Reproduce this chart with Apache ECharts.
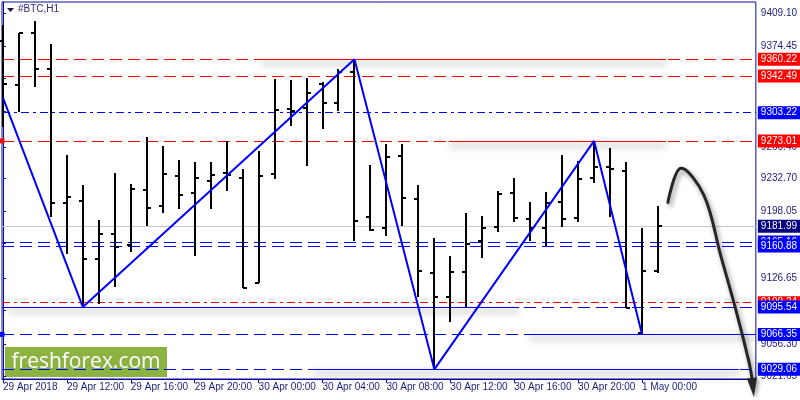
<!DOCTYPE html>
<html>
<head>
<meta charset="utf-8">
<script src="https://cdn.jsdelivr.net/npm/echarts@6/dist/echarts.min.js"></script>
<style>
html,body{margin:0;padding:0;background:#fff;}
#main{width:800px;height:400px;}
</style>
</head>
<body>
<div id="main"></div>
<script>
// ---- data (hourly bars from 29 Apr 2018 08:00, index = hour offset) ----
const opens  = [9380.0,9333.1,9388.0,9350.2,9206.7,9209.1,9146.5,9173.6,9161.8,9220.6,9203.2,9235.9,9217.4,9230.2,9238.8,9233.2,9121.6,9238.0,9307.5,9308.5,9333.5,9313.9,9346.6,9192.1,9180.3,9256.6,9211.3,9132.2,9106.0,9133.3,9166.4,9181.4,9217.1,9189.3,9180.3,9208.1,9191.0,9233.1,9245.5,9241.2,9068.0,9134.1];
const highs  = [9396.9,9388.0,9401.1,9376.6,9258.0,9225.9,9188.5,9238.4,9227.0,9276.9,9267.6,9252.6,9250.5,9250.5,9272.9,9242.7,9262.2,9338.9,9337.8,9340.2,9335.6,9349.5,9360.22,9247.3,9269.7,9269.7,9225.9,9169.0,9150.1,9195.7,9192.8,9219.2,9233.1,9207.5,9218.1,9258.0,9251.6,9273.01,9265.1,9250.2,9179.7,9203.5];
const lows   = [9288.2,9304.2,9330.9,9192.1,9152.2,9095.54,9098.8,9116.6,9154.7,9182.4,9196.3,9200.6,9150.1,9200.6,9219.9,9115.6,9121.6,9232.0,9289.3,9246.5,9286.1,9305.0,9166.1,9176.8,9171.8,9182.1,9106.0,9029.06,9079.3,9096.0,9147.6,9175.7,9186.8,9166.1,9160.8,9180.8,9186.1,9227.8,9191.4,9094.2,9066.35,9131.6];
const closes = [9333.8,9388.0,9350.2,9206.7,9213.4,9146.5,9173.6,9160.0,9221.7,9201.4,9238.0,9215.2,9233.2,9236.9,9236.6,9116.2,9235.9,9306.4,9305.0,9324.5,9313.9,9346.6,9187.5,9177.9,9255.9,9212.4,9134.4,9106.0,9133.3,9162.9,9180.3,9216.0,9191.0,9180.3,9206.4,9190.0,9232.3,9245.5,9243.4,9094.2,9134.1,9181.99];

const zigzagIndex = [0, 5, 22, 27, 37, 40];
const zigzagPrice = [9319.0, 9095.54, 9360.22, 9029.06, 9273.01, 9066.35];

const levelPrices = [9360.22, 9342.49, 9303.22, 9273.01, 9181.99, 9165.16, 9160.88, 9100.24, 9095.54, 9066.35, 9029.06];

const xTickIndex  = [0, 4, 8, 12, 16, 20, 24, 28, 32, 36, 40];
const xTickLabels = ['29 Apr 2018','29 Apr 12:00','29 Apr 16:00','29 Apr 20:00','30 Apr 00:00','30 Apr 04:00','30 Apr 08:00','30 Apr 12:00','30 Apr 16:00','30 Apr 20:00','1 May 00:00'];
const yTickValues = [9409.10, 9374.45, 9339.80, 9305.15, 9266.40, 9232.70, 9198.05, 9163.40, 9126.65, 9092.00, 9056.30, 9021.65];

// forecast arrow path (hour index, price), last entry = arrow tip
const forecastIndex = [41.62, 42.42, 43.87, 44.92, 45.96, 46.69, 46.88, 47.0];
const forecastPrice = [9207.4, 9243.8, 9215.2, 9151.1, 9087.0, 9037.2, 9019.7, 8999.6];

// ---- build ----
const ohlc = opens.map((o, i) => [i, o, highs[i], lows[i], closes[i]]);
const zigzag = zigzagIndex.map((x, i) => [x, zigzagPrice[i]]);

const NAVY = '#0b0b9c';
const TXT = '#1c1c7c';
const FONT = 'Liberation Sans';
const RED = '#ff0000', BLUE = '#0000ff', DARK = '#00007f';
const HOLLOW_SQ = 'path://M0,0H10V10H0Z M2.5,2.5V7.5H7.5V2.5Z';

function lbl(bg) {
  return {
    show: true, position: 'end', distance: 2,
    formatter: p => Number(p.value).toFixed(2),
    color: '#fff', backgroundColor: bg, fontFamily: FONT, fontSize: 10,
    lineHeight: 12, padding: [1, 3, 0, 3]
  };
}
const shadow = { shadowColor: 'rgba(0,0,0,0.75)', shadowBlur: 7, shadowOffsetY: 4 };
const DASH = [12, 6], DASHDOT = [8, 4, 3, 4];
const L = levelPrices;
function seg(a, b, price, color) {
  return [{ coord: [a, price], lineStyle: Object.assign({ color: color, width: 1, type: 'solid' }, shadow) }, { coord: [b, price] }];
}

const markData = [
  seg(16.2, 41.5, L[0], RED),
  seg(27.9, 41.5, L[3], RED),
  seg(0.3, 32.3, L[8], BLUE),
  seg(32.9, 47.125, L[9], BLUE),
  seg(19.5, 46.05, L[10], BLUE),
  { yAxis: L[0], lineStyle: { color: RED, type: DASH, width: 1 }, label: lbl(RED) },
  { yAxis: L[1], lineStyle: { color: RED, type: DASH, width: 1 }, label: lbl(RED) },
  { yAxis: L[2], lineStyle: { color: BLUE, type: DASHDOT, width: 1 }, label: lbl(BLUE) },
  { yAxis: L[3], lineStyle: { color: RED, type: DASH, width: 1 }, label: lbl(RED), symbol: [HOLLOW_SQ, HOLLOW_SQ], symbolSize: 5 },
  { yAxis: L[4], lineStyle: { color: '#c8c8c8', type: 'solid', width: 1 }, label: lbl(DARK) },
  { yAxis: L[5], lineStyle: { color: BLUE, type: DASH, width: 1 }, label: lbl(BLUE) },
  { yAxis: L[6], lineStyle: { color: BLUE, type: DASH, width: 1 }, label: lbl(BLUE) },
  { yAxis: L[7], lineStyle: { color: RED, type: DASHDOT, width: 1 }, label: lbl(RED) },
  { yAxis: L[8], lineStyle: { color: BLUE, type: DASH, width: 1 }, label: lbl(BLUE) },
  { yAxis: L[9], lineStyle: { color: BLUE, type: DASH, width: 1 }, label: lbl(BLUE), symbol: [HOLLOW_SQ, HOLLOW_SQ], symbolSize: 5 },
  { yAxis: L[10], lineStyle: { color: BLUE, type: DASH, width: 1 }, label: lbl(BLUE) }
];

const chart = echarts.init(document.getElementById('main'), null, { renderer: 'canvas' });
const baseGraphic = [
  { id: 'tri', type: 'polygon', shape: { points: [[7, 8], [14, 8], [10.5, 12]] }, style: { fill: '#14145a' }, z: 50 },
  { id: 'ttl', type: 'text', left: 18, top: 4, style: { text: '#BTC,H1', fill: '#2a2a7a', font: '10px "Liberation Sans"' }, z: 50 },
  {
    id: 'logo', type: 'group', left: 5, top: 347, z: 60, children: [
      { type: 'rect', shape: { x: 0, y: 0, width: 162, height: 30 }, style: { fill: '#8cb342' } },
      { type: 'text', x: 81, y: 15, style: { text: 'freshforex.com', fill: '#fff', font: '21px "Open Sans"', align: 'center', verticalAlign: 'middle' } }
    ]
  }
];
chart.setOption({
  animation: false,
  backgroundColor: '#fff',
  textStyle: { fontFamily: FONT },
  grid: { left: 2, right: 43, top: 2, bottom: 21, show: true, borderColor: NAVY, borderWidth: 1, backgroundColor: '#fff' },
  xAxis: {
    type: 'value', min: -0.0625, max: 47.125,
    splitLine: { show: false },
    axisLine: { show: true, onZero: false, lineStyle: { color: NAVY } },
    axisTick: { show: true, customValues: xTickIndex, length: 4, lineStyle: { color: NAVY } },
    axisLabel: {
      customValues: xTickIndex, align: 'left', margin: 3,
      color: TXT, fontFamily: FONT, fontSize: 10,
      formatter: v => xTickLabels[xTickIndex.indexOf(Math.round(v))] || ''
    }
  },
  yAxis: {
    type: 'value', position: 'right', min: 9018.70, max: 9421.43, scale: true,
    splitLine: { show: false },
    axisLine: { show: true, lineStyle: { color: NAVY } },
    axisTick: { show: true, customValues: yTickValues, length: 3, lineStyle: { color: NAVY } },
    axisLabel: {
      customValues: yTickValues, margin: 5, color: TXT, fontFamily: FONT, fontSize: 10,
      formatter: v => Number(v).toFixed(2)
    }
  },
  graphic: baseGraphic,
  series: [
    {
      name: 'levels', type: 'line', data: [], z: 3,
      markLine: { silent: true, symbol: 'none', animation: false, precision: 2, data: markData }
    },
    {
      name: 'BTC', type: 'custom', z: 5,
      data: ohlc,
      encode: { x: 0, y: [1, 2, 3, 4] },
      renderItem: function (params, api) {
        const i = api.value(0);
        const pO = api.coord([i, api.value(1)]);
        const pH = api.coord([i, api.value(2)]);
        const pL = api.coord([i, api.value(3)]);
        const pC = api.coord([i, api.value(4)]);
        const x = Math.round(pH[0]);
        const st = { stroke: '#000', lineWidth: 2 };
        return {
          type: 'group', children: [
            { type: 'line', shape: { x1: x, y1: Math.round(pH[1]), x2: x, y2: Math.round(pL[1]) }, style: st },
            { type: 'line', shape: { x1: x - 4, y1: Math.round(pO[1]), x2: x, y2: Math.round(pO[1]) }, style: st },
            { type: 'line', shape: { x1: x, y1: Math.round(pC[1]), x2: x + 4, y2: Math.round(pC[1]) }, style: st }
          ]
        };
      }
    },
    {
      name: 'ZigZag', type: 'line', z: 6, data: zigzag, symbol: 'none',
      lineStyle: { color: BLUE, width: 2 }
    }
  ]
});

// forecast arrow: data points -> pixels via the chart's own scales
const px = forecastIndex.map((x, i) => chart.convertToPixel({ gridIndex: 0 }, [x, forecastPrice[i]]));
const tip = px[px.length - 1];
const curve = px.slice(0, px.length - 1);
const base = curve[curve.length - 1];
const dx = tip[0] - base[0], dy = tip[1] - base[1];
const len = Math.sqrt(dx * dx + dy * dy) || 1;
const nx = -dy / len * 5, ny = dx / len * 5;
chart.setOption({
  graphic: baseGraphic.concat([
    {
      id: 'arrowLine', type: 'polyline', z: 40,
      shape: { points: curve, smooth: 0.35 },
      style: { stroke: '#262626', lineWidth: 3, fill: null, lineCap: 'round',
        shadowColor: 'rgba(0,0,0,0.45)', shadowBlur: 5, shadowOffsetX: 2, shadowOffsetY: 3 }
    },
    {
      id: 'arrowHead', type: 'polygon', z: 41,
      shape: { points: [[base[0] + nx, base[1] + ny], [tip[0], tip[1]], [base[0] - nx, base[1] - ny]] },
      style: { fill: '#262626', shadowColor: 'rgba(0,0,0,0.4)', shadowBlur: 4, shadowOffsetX: 2, shadowOffsetY: 2 }
    }
  ])
});
</script>
</body>
</html>
